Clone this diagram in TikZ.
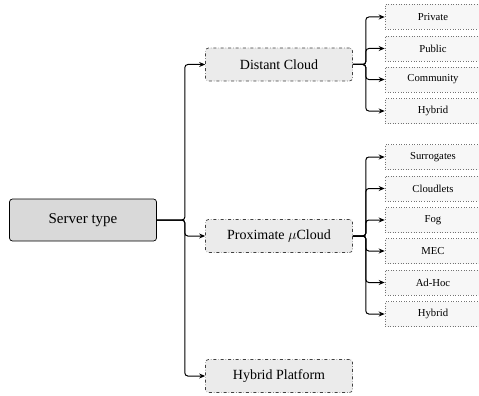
\documentclass[tikz,border=0pt]{standalone}
\usepackage{fontspec}
\setmainfont{Liberation Serif}
\usepackage{amsmath}
\usetikzlibrary{arrows.meta}

\begin{document}
\begin{tikzpicture}[x=1pt, y=-1pt, root/.style={draw, rectangle, rounded corners=3, fill=black!15, minimum width=147pt, minimum height=42pt, line width=0.7pt, font=\rmfamily\fontsize{15}{18}\selectfont}, cat/.style={draw=black!75, rectangle, rounded corners=3, dash dot, fill=black!8, minimum width=147pt, minimum height=33pt, line width=0.7pt, font=\rmfamily\fontsize{14}{17}\selectfont}, leaf/.style={draw=black!55, rectangle, dotted, fill=black!3, minimum width=96pt, minimum height=25pt, line width=0.6pt, font=\rmfamily\fontsize{10.7}{13}\selectfont}, n/.style={-{Stealth[length=6pt, width=5pt]}, line width=1pt, rounded corners=3}]
            \useasboundingbox (0,0) rectangle (479,396);
            % nodes
            \node[root] (server) at (83,220) {Server type};

            \node[cat] (distant) at (279,64.5) {Distant Cloud};
            \node[cat] (proximate) at (279,236) {Proximate $\mu$Cloud};
            \node[cat] (hybridp) at (279,376) {Hybrid Platform};

            \node[leaf] (private) at (433,17) {Private};
            \node[leaf] (public) at (433,48.5) {Public};
            \node[leaf] (community) at (433,79.5) {Community};
            \node[leaf] (hybridd) at (433,111) {Hybrid};

            \node[leaf] (surrogates) at (433,157) {Surrogates};
            \node[leaf] (cloudlets) at (433,188.5) {Cloudlets};
            \node[leaf] (fog) at (433,220) {Fog};
            \node[leaf] (mec) at (433,251) {MEC};
            \node[leaf] (adhoc) at (433,282.5) {Ad-Hoc};
            \node[leaf] (hybridm) at (433,314) {Hybrid};
            % edges
            \draw [n] (server.east) -- ++(28,0) |- (distant.west);
            \draw [n] (server.east) -- ++(28,0) |- (proximate.west);
            \draw [n] (server.east) -- ++(28,0) |- (hybridp.west);

            \draw [n] (distant.east) -- ++(13,0) |- (private.west);
            \draw [n] (distant.east) -- ++(13,0) |- (public.west);
            \draw [n] (distant.east) -- ++(13,0) |- (community.west);
            \draw [n] (distant.east) -- ++(13,0) |- (hybridd.west);

            \draw [n] (proximate.east) -- ++(13,0) |- (surrogates.west);
            \draw [n] (proximate.east) -- ++(13,0) |- (cloudlets.west);
            \draw [n] (proximate.east) -- ++(13,0) |- (fog.west);
            \draw [n] (proximate.east) -- ++(13,0) |- (mec.west);
            \draw [n] (proximate.east) -- ++(13,0) |- (adhoc.west);
            \draw [n] (proximate.east) -- ++(13,0) |- (hybridm.west);
        \end{tikzpicture}
\end{document}
